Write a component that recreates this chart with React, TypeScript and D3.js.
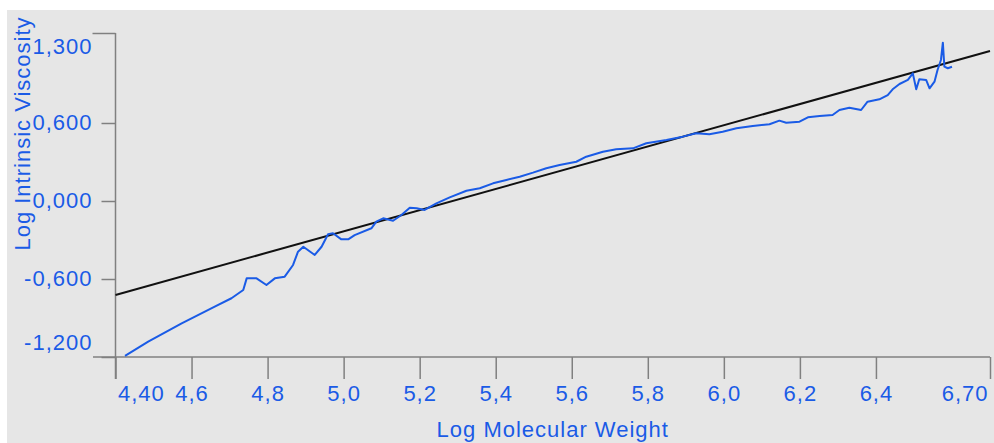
import * as d3 from 'd3';
import { useEffect, useRef } from 'react';

// blue curve: log M vs log [eta]
const logM = [4.425, 4.486, 4.574, 4.661, 4.705, 4.736, 4.745, 4.771, 4.797, 4.819, 4.845, 4.867, 4.880, 4.894, 4.924, 4.942, 4.959, 4.972, 4.994, 5.012, 5.029, 5.073, 5.086, 5.104, 5.130, 5.152, 5.174, 5.192, 5.213, 5.244, 5.279, 5.323, 5.358, 5.393, 5.428, 5.463, 5.498, 5.533, 5.568, 5.612, 5.638, 5.682, 5.717, 5.761, 5.796, 5.849, 5.892, 5.927, 5.962, 5.997, 6.033, 6.076, 6.120, 6.146, 6.164, 6.199, 6.221, 6.252, 6.286, 6.304, 6.330, 6.361, 6.378, 6.409, 6.431, 6.444, 6.462, 6.484, 6.497, 6.506, 6.514, 6.532, 6.541, 6.554, 6.562, 6.571, 6.576, 6.580, 6.589, 6.600];
const logEta = [-1.192, -1.082, -0.941, -0.813, -0.748, -0.685, -0.595, -0.595, -0.646, -0.595, -0.582, -0.492, -0.390, -0.352, -0.415, -0.352, -0.256, -0.248, -0.295, -0.295, -0.262, -0.210, -0.159, -0.133, -0.152, -0.108, -0.052, -0.056, -0.069, -0.018, 0.028, 0.079, 0.098, 0.136, 0.162, 0.187, 0.218, 0.252, 0.277, 0.302, 0.341, 0.379, 0.398, 0.405, 0.444, 0.469, 0.495, 0.521, 0.513, 0.533, 0.559, 0.577, 0.590, 0.618, 0.602, 0.610, 0.644, 0.654, 0.662, 0.700, 0.718, 0.700, 0.764, 0.782, 0.815, 0.859, 0.900, 0.931, 0.982, 0.859, 0.936, 0.931, 0.867, 0.918, 1.008, 1.085, 1.218, 1.033, 1.021, 1.033];

// black fit line
const fitM = [4.4, 6.7];
const fitEta = [-0.723, 1.154];

const xTicks = [4.4, 4.6, 4.8, 5.0, 5.2, 5.4, 5.6, 5.8, 6.0, 6.2, 6.4, 6.7];
const xTickLabels = ['4,40', '4,6', '4,8', '5,0', '5,2', '5,4', '5,6', '5,8', '6,0', '6,2', '6,4', '6,70'];
const yTicks = [1.3, 0.6, 0.0, -0.6, -1.2];
const yTickLabels = ['1,300', '0,600', '0,000', '-0,600', '-1,200'];

const BLUE = '#1a5be6';
const GREY = '#808080';
const FONT = '"Liberation Sans", Arial, sans-serif';

const App = () => {
    const ref = useRef<SVGSVGElement>(null);

    useEffect(() => {
        const svg = d3.select(ref.current);
        svg.selectAll('*').remove();

        var x: any = d3.scaleLinear().domain([4.4, 6.7]).range([115.5, 990]);
        var y: any = d3.scaleLinear().domain([-1.2, 1.3]).range([357, 32]);

        // panel
        svg.append('rect')
            .attr('x', 7).attr('y', 10)
            .attr('width', 987).attr('height', 433)
            .attr('fill', '#e6e6e6');

        // axis lines
        svg.append('line')
            .attr('x1', 93).attr('x2', x(6.7))
            .attr('y1', y(-1.2)).attr('y2', y(-1.2))
            .attr('stroke', GREY).attr('stroke-width', 1.5);
        svg.append('line')
            .attr('x1', x(4.4)).attr('x2', x(4.4))
            .attr('y1', y(1.3) + 1).attr('y2', y(-1.2) + 22)
            .attr('stroke', GREY).attr('stroke-width', 1.5);

        // y axis
        const yAxis = svg.append('g')
            .attr('transform', 'translate(' + x(4.4) + ',0)')
            .call(d3.axisLeft(y).tickValues(yTicks).tickSize(14).tickSizeOuter(0)
                .tickFormat((d: any, i: number) => yTickLabels[i]));
        yAxis.select('.domain').remove();
        yAxis.selectAll('.tick line')
            .attr('stroke', GREY).attr('stroke-width', 1.5)
            .attr('x2', (d: any) => (d === 1.3 ? -23 : -14))
            .attr('transform', (d: any) => (d === 1.3 ? 'translate(0,1)' : null));
        yAxis.selectAll('.tick text')
            .attr('x', -23)
            .attr('dy', null)
            .attr('y', (d: any) => (d === 1.3 ? 21 : d === -1.2 ? -8 : 6.5))
            .attr('fill', BLUE)
            .style('font-size', '22px')
            .style('font-family', FONT)
            .style('letter-spacing', '1px');

        // x axis
        const xAxis = svg.append('g')
            .attr('transform', 'translate(0,' + y(-1.2) + ')')
            .call(d3.axisBottom(x).tickValues(xTicks).tickSize(22).tickSizeOuter(0)
                .tickFormat((d: any, i: number) => xTickLabels[i]));
        xAxis.select('.domain').remove();
        xAxis.selectAll('.tick line').attr('stroke', GREY).attr('stroke-width', 1.5);
        xAxis.selectAll('.tick text')
            .attr('dy', null)
            .attr('y', 44)
            .attr('text-anchor', (d: any) => (d === 4.4 ? 'start' : d === 6.7 ? 'end' : 'middle'))
            .attr('x', (d: any) => (d === 4.4 ? 2 : d === 6.7 ? -2 : 0))
            .attr('fill', BLUE)
            .style('font-size', '22px')
            .style('font-family', FONT)
            .style('letter-spacing', '1px');

        // fit line
        const fit = fitM.map((m, i) => [m, fitEta[i]]);
        svg.append('path')
            .datum(fit)
            .attr('fill', 'none')
            .attr('stroke', '#111')
            .attr('stroke-width', 2)
            .attr('d', d3.line().x((d: any) => x(d[0])).y((d: any) => y(d[1])) as any);

        // data line
        const pts = logM.map((m, i) => [m, logEta[i]]);
        svg.append('path')
            .datum(pts)
            .attr('fill', 'none')
            .attr('stroke', BLUE)
            .attr('stroke-width', 2)
            .attr('stroke-linejoin', 'round')
            .attr('d', d3.line().x((d: any) => x(d[0])).y((d: any) => y(d[1])) as any);

        // titles
        svg.append('text')
            .attr('x', (x(4.4) + x(6.7)) / 2)
            .attr('y', 437)
            .attr('text-anchor', 'middle')
            .attr('fill', BLUE)
            .style('font-size', '22px')
            .style('font-family', FONT)
            .style('letter-spacing', '1px')
            .text('Log Molecular Weight');
        svg.append('text')
            .attr('transform', 'translate(30,133.5)rotate(-90)')
            .attr('text-anchor', 'middle')
            .attr('fill', BLUE)
            .style('font-size', '22px')
            .style('font-family', FONT)
            .style('letter-spacing', '1px')
            .text('Log Intrinsic Viscosity');
    }, []);

    return (
        <svg ref={ref} width={994} height={443}
            style={{ position: 'absolute', left: 0, top: 0, background: '#fff' }} />
    );
};

export default App;
